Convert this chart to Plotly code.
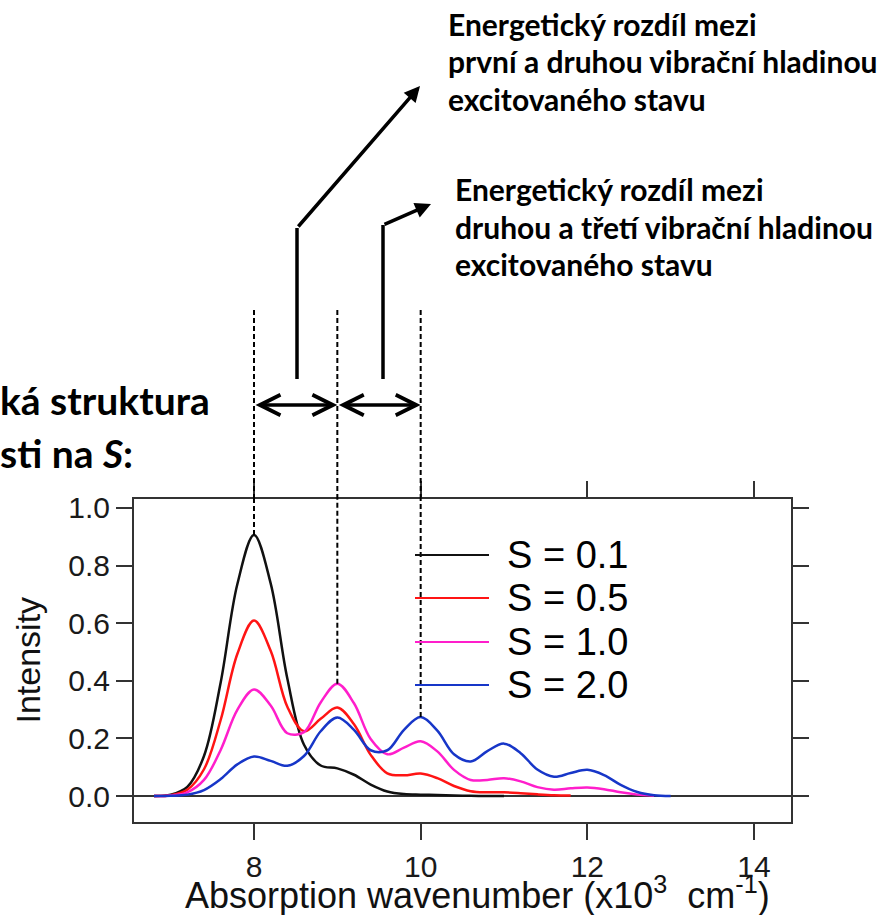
import plotly.graph_objects as go

# Absorption wavenumber grid (x10^3 cm^-1)
wavenumber = [6.8, 7.0, 7.2, 7.4, 7.6, 7.8, 8.0, 8.2, 8.4, 8.6, 8.8, 9.0, 9.2, 9.4,
              9.6, 9.8, 10.0, 10.2, 10.4, 10.6, 10.8, 11.0, 11.2, 11.4, 11.6, 11.8,
              12.0, 12.2, 12.4, 12.6, 12.8, 13.0]

series_names = ["S = 0.1", "S = 0.5", "S = 1.0", "S = 2.0"]
series_colors = ["#111111", "#ff1414", "#ff1ecb", "#1736c8"]

intensity_s01 = [0.0005, 0.005, 0.032, 0.139, 0.394, 0.735, 0.906, 0.738, 0.408, 0.178,
                 0.106, 0.096, 0.074, 0.040, 0.016, 0.007, 0.005, 0.004, 0.002, 0.001,
                 0.0, 0.0, None, None, None, None, None, None, None, None, None, None]
intensity_s05 = [0.0003, 0.003, 0.022, 0.093, 0.264, 0.493, 0.609, 0.504, 0.310, 0.225,
                 0.268, 0.307, 0.249, 0.143, 0.079, 0.072, 0.078, 0.062, 0.035, 0.017,
                 0.013, 0.013, 0.010, 0.006, 0.003, 0.002, None, None, None, None, None, None]
intensity_s10 = [0.0002, 0.002, 0.013, 0.056, 0.160, 0.299, 0.370, 0.314, 0.218, 0.222,
                 0.325, 0.390, 0.322, 0.198, 0.145, 0.168, 0.190, 0.155, 0.091, 0.056,
                 0.056, 0.062, 0.051, 0.031, 0.022, 0.027, 0.030, 0.024, 0.013, 0.005,
                 0.001, None]
intensity_s20 = [0.0001, 0.001, 0.005, 0.021, 0.059, 0.110, 0.137, 0.122, 0.105, 0.139,
                 0.225, 0.273, 0.230, 0.159, 0.159, 0.230, 0.274, 0.227, 0.145, 0.120,
                 0.156, 0.182, 0.149, 0.092, 0.067, 0.080, 0.091, 0.073, 0.039, 0.014,
                 0.003, 0.0005]
all_series = [intensity_s01, intensity_s05, intensity_s10, intensity_s20]

x_ticks = [8, 10, 12, 14]
y_ticks = [0.0, 0.2, 0.4, 0.6, 0.8, 1.0]
y_ticktext = ["0.0", "0.2", "0.4", "0.6", "0.8", "1.0"]

# vibronic peak positions marked with dashed guides
marked_peaks = [8.0, 9.0, 10.0]

# figure geometry (pixels)
W, H = 887, 915
ML, MR, MT, MB = 134, 96, 499, 93
PW, PH = W - ML - MR, H - MT - MB
X_RANGE = [6.56, 14.444]
Y_RANGE = [-0.09, 1.031]


def px(x):
    return (x - ML) / PW


def py(y):
    return (H - MB - y) / PH


AX_FONT = "Liberation Sans, Arial, sans-serif"
NOTE_FONT = "Lato, Open Sans, sans-serif"

fig = go.Figure()
for name, color, vals in zip(series_names, series_colors, all_series):
    fig.add_trace(go.Scatter(
        x=wavenumber, y=vals, mode="lines", name=name,
        line=dict(color=color, width=2.5, shape="spline", smoothing=1.0),
        connectgaps=False, showlegend=False,
    ))

shapes = []
annotations = []

# dashed guides: from the highest curve at each peak up above the frame
for xp in marked_peaks:
    i = wavenumber.index(xp)
    top_val = max(s[i] for s in all_series if s[i] is not None)
    shapes.append(dict(type="line", xref="x", yref="y", x0=xp, x1=xp,
                       y0=top_val, y1=Y_RANGE[1],
                       line=dict(color="black", width=2, dash="5px,3px")))
    shapes.append(dict(type="line", xref="x", yref="paper", x0=xp, x1=xp,
                       y0=1.0, y1=py(308),
                       line=dict(color="black", width=2, dash="5px,3px")))

# double-headed spacing arrows between neighbouring peaks
arrow_y = py(405)
for xa, xb in zip(marked_peaks[:-1], marked_peaks[1:]):
    annotations.append(dict(
        x=xb, y=arrow_y, xref="x", yref="paper", ax=xa, ay=0, axref="x", ayref="pixel",
        text="", showarrow=True, arrowside="end+start",
        arrowhead=5, startarrowhead=5, arrowsize=1.15, startarrowsize=1.15,
        arrowwidth=3.5, arrowcolor="black", standoff=0, startstandoff=0,
    ))

# connector lines to the explanatory notes
for xv, ytop, xtip, ytip in [(297, 228, 420, 86), (383, 225, 431, 204)]:
    shapes.append(dict(type="line", xref="paper", yref="paper",
                       x0=px(xv), x1=px(xv), y0=py(379), y1=py(ytop),
                       line=dict(color="black", width=3.5)))
    annotations.append(dict(
        x=px(xtip), y=py(ytip), xref="paper", yref="paper",
        ax=xv - xtip, ay=ytop - ytip, axref="pixel", ayref="pixel",
        text="", showarrow=True, arrowhead=2, arrowsize=0.9, arrowwidth=3.5,
        arrowcolor="black",
    ))

note_1 = ["Energetický rozdíl mezi", "první a druhou vibrační hladinou",
          "excitovaného stavu"]
note_2 = ["Energetický rozdíl mezi", "druhou a třetí vibrační hladinou",
          "excitovaného stavu"]
for lines, x0, ys in [(note_1, 446, [24, 61, 99]), (note_2, 453, [189, 227, 264])]:
    for line, yc in zip(lines, ys):
        annotations.append(dict(
            x=px(x0), y=py(yc), xref="paper", yref="paper", xanchor="left",
            yanchor="middle", text=line, showarrow=False,
            font=dict(family=NOTE_FONT, size=30, color="black", weight="bold"),
        ))

# heading fragment at the left edge
for line, yc in [("ká struktura", 400), ("sti na <i>S</i>:", 453)]:
    annotations.append(dict(
        x=px(-2), y=py(yc), xref="paper", yref="paper", xanchor="left",
        yanchor="middle", text=line, showarrow=False,
        font=dict(family=NOTE_FONT, size=39, color="black", weight="bold"),
    ))

# legend drawn with long line samples
legend_rows = [555, 598, 642, 685]
for name, color, yr in zip(series_names, series_colors, legend_rows):
    shapes.append(dict(type="line", xref="paper", yref="paper",
                       x0=px(415), x1=px(489), y0=py(yr), y1=py(yr),
                       line=dict(color=color, width=2)))
    annotations.append(dict(
        x=px(505), y=py(yr), xref="paper", yref="paper", xanchor="left",
        yanchor="middle", text=name, showarrow=False,
        font=dict(family=AX_FONT, size=38, color="black"),
    ))

# axis titles
annotations.append(dict(
    x=px(477), y=py(893), xref="paper", yref="paper", xanchor="center",
    yanchor="middle", showarrow=False,
    text="Absorption wavenumber (x10<sup>3</sup>\u00a0 cm<sup>-1</sup>)",
    font=dict(family=AX_FONT, size=36, color="#111111"),
))
annotations.append(dict(
    x=px(27), y=0.5, xref="paper", yref="paper", xanchor="center",
    yanchor="middle", showarrow=False, text="Intensity", textangle=-90,
    font=dict(family=AX_FONT, size=34, color="#111111"),
))

axis_common = dict(
    showgrid=False, showline=True, linewidth=2, linecolor="#333333",
    mirror="ticks", ticks="outside", ticklen=16, tickwidth=2, tickcolor="#333333",
    tickfont=dict(family=AX_FONT, size=30, color="#1a1a1a"),
)

fig.update_layout(
    width=W, height=H,
    margin=dict(l=ML, r=MR, t=MT, b=MB, pad=0),
    paper_bgcolor="white", plot_bgcolor="white",
    xaxis=dict(range=X_RANGE, tickvals=x_ticks, zeroline=False,
               ticklabelstandoff=1, **axis_common),
    yaxis=dict(range=Y_RANGE, tickvals=y_ticks, ticktext=y_ticktext,
               zeroline=True, zerolinecolor="#333333", zerolinewidth=1.5,
               ticklabelstandoff=0, **axis_common),
    shapes=shapes,
    annotations=annotations,
    showlegend=False,
)

fig.write_html("out.html")
